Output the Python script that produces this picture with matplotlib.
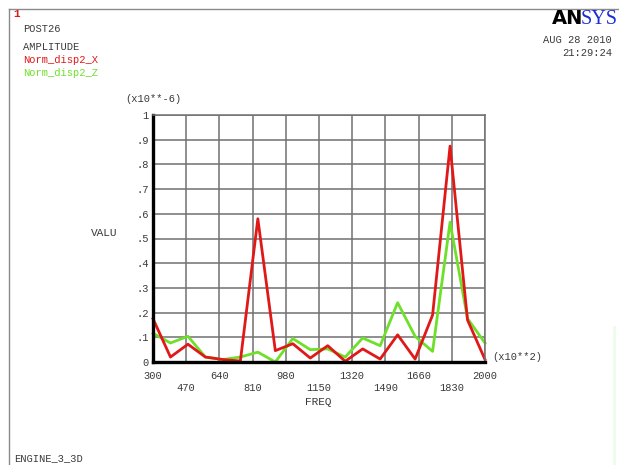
import matplotlib

matplotlib.use("Agg")
import matplotlib.pyplot as plt
import numpy as np

W, H = 619, 465

freq_start = 300
freq_end = 2000
n_points = 20

# amplitudes in units of 1e-6
disp_x = [0.175, 0.02, 0.072, 0.02, 0.01, 0.004, 0.58, 0.046, 0.074, 0.016,
          0.066, 0.003, 0.053, 0.012, 0.11, 0.012, 0.19, 0.874, 0.17, 0.01]
disp_z = [0.116, 0.077, 0.104, 0.02, 0.01, 0.02, 0.04, 0.0, 0.095, 0.05,
          0.053, 0.02, 0.097, 0.066, 0.24, 0.104, 0.043, 0.566, 0.176, 0.077]

x_ticks = [300, 470, 640, 810, 980, 1150, 1320, 1490, 1660, 1830, 2000]
y_ticks = [0, 0.1, 0.2, 0.3, 0.4, 0.5, 0.6, 0.7, 0.8, 0.9, 1.0]
y_tick_labels = ["0", ".1", ".2", ".3", ".4", ".5", ".6", ".7", ".8", ".9", "1"]

RED = "#e01818"
GREEN = "#6ee02a"
TEXT = "#3a3a3a"
MONO = "Liberation Mono"

freqs = np.linspace(freq_start, freq_end, n_points)

fig = plt.figure(figsize=(W / 100, H / 100), dpi=100)
fig.patch.set_facecolor("white")


def fx(px):
    return px / W


def fy(py):
    return 1 - py / H


def label(px, py, s, **kw):
    kw.setdefault("family", MONO)
    kw.setdefault("fontsize", 7.5)
    kw.setdefault("color", TEXT)
    kw.setdefault("va", "center")
    fig.text(fx(px), fy(py), s, **kw)


# page frame
fig.add_artist(plt.Line2D([fx(9), fx(619)], [fy(9), fy(9)], color="#8a8a8a", lw=1.0))
fig.add_artist(plt.Line2D([fx(9), fx(9)], [fy(9), fy(465)], color="#8a8a8a", lw=1.0))
fig.add_artist(plt.Line2D([fx(614), fx(614)], [fy(327), fy(465)], color="#eefcea", lw=2.0))

ax = fig.add_axes([fx(153), fy(362), (485 - 153) / W, (362 - 115) / H])
ax.set_xlim(freq_start, freq_end)
ax.set_ylim(0, 1)
ax.set_xticks(x_ticks)
ax.set_xticklabels([str(t) if i % 2 == 0 else "\n" + str(t) for i, t in enumerate(x_ticks)])
ax.set_yticks(y_ticks)
ax.set_yticklabels(y_tick_labels)
ax.grid(True, color="#707070", lw=1.1)
ax.set_axisbelow(True)
ax.tick_params(length=0, labelsize=7.5, labelcolor=TEXT)
ax.tick_params(axis="x", pad=6.5)
ax.tick_params(axis="y", pad=3)
for lab in ax.get_xticklabels() + ax.get_yticklabels():
    lab.set_family(MONO)
for side in ("top", "right"):
    ax.spines[side].set_color("#707070")
    ax.spines[side].set_linewidth(1.1)
for side in ("left", "bottom"):
    ax.spines[side].set_color("black")
    ax.spines[side].set_linewidth(2.4)

ax.plot(freqs, disp_z, color=GREEN, lw=2.0, clip_on=False)
ax.plot(freqs, disp_x, color=RED, lw=2.0, clip_on=False)

# header text
label(13, 14, "1", color=RED, fontweight="bold", fontsize=8)
label(23, 29, "POST26")
label(23, 47, "AMPLITUDE")
label(23, 60, "Norm_disp2_X", color=RED)
label(23, 73, "Norm_disp2_Z", color=GREEN)
label(612, 40, "AUG 28 2010", ha="right")
label(612, 53, "21:29:24", ha="right")
fig.text(fx(552), fy(19), "AN", family="DejaVu Sans", fontweight="bold",
         fontsize=14, color="black", va="center")
fig.text(fx(581), fy(19), "SYS", family="Liberation Serif",
         fontsize=14.5, color="#1a2fd0", va="center")

# axis annotations
label(125, 99, "(x10**-6)")
label(91, 233, "VALU", fontsize=8)
label(318, 402, "FREQ", ha="center", fontsize=8)
label(492, 357, "(x10**2)")
label(14, 458, "ENGINE_3_3D")

fig.savefig("out.png", dpi=100, facecolor="white")
